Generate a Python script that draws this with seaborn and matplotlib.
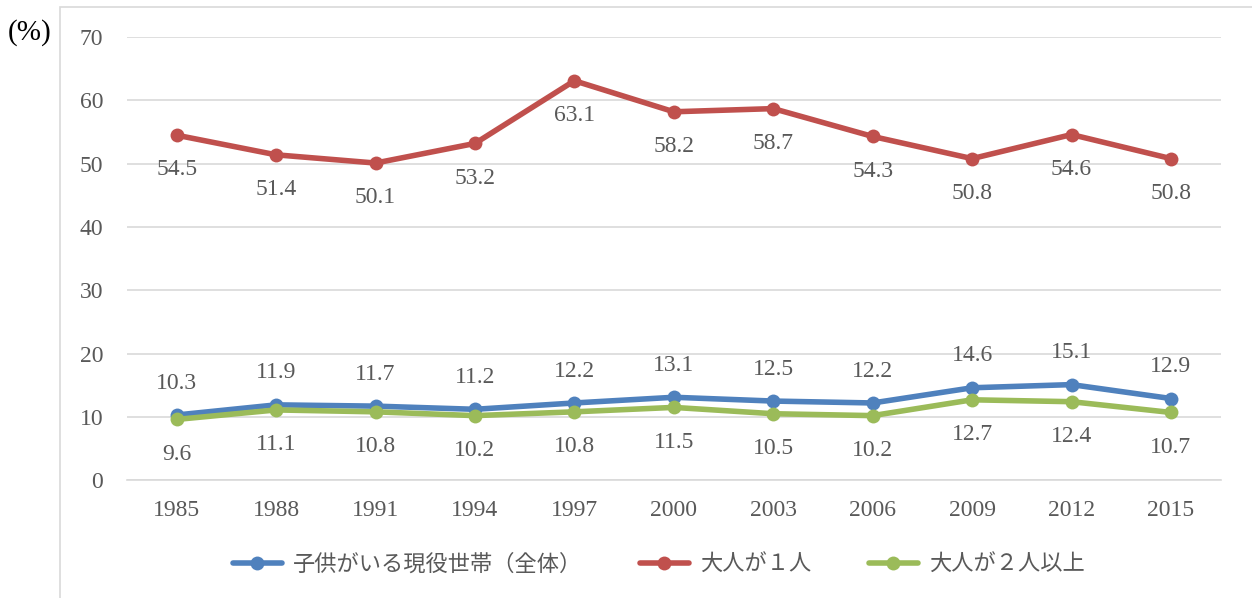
import pandas as pd
import seaborn as sns
import matplotlib.pyplot as plt
from matplotlib.patches import Rectangle

# data
years = ['1985', '1988', '1991', '1994', '1997', '2000',
         '2003', '2006', '2009', '2012', '2015']
all_households = [10.3, 11.9, 11.7, 11.2, 12.2, 13.1, 12.5, 12.2, 14.6, 15.1, 12.9]
one_adult = [54.5, 51.4, 50.1, 53.2, 63.1, 58.2, 58.7, 54.3, 50.8, 54.6, 50.8]
two_adults = [9.6, 11.1, 10.8, 10.2, 10.8, 11.5, 10.5, 10.2, 12.7, 12.4, 10.7]

series_names = ['子供がいる現役世帯（全体）', '大人が１人', '大人が２人以上']
colors = ['#4F81BD', '#C0504D', '#9BBB59']

df = pd.DataFrame({
    'year': years * 3,
    'value': all_households + one_adult + two_adults,
    'series': [series_names[0]] * 11 + [series_names[1]] * 11 + [series_names[2]] * 11,
})

sns.set_style('white')
plt.rcParams['font.family'] = ['Liberation Serif', 'Noto Sans CJK JP']
text_col = '#595959'

fig = plt.figure(figsize=(12.52, 5.98), dpi=100)
ax = fig.add_axes([0.1014, 0.197, 0.8736, 0.741])

sns.lineplot(data=df, x='year', y='value', hue='series', palette=colors,
             marker='o', markersize=10, linewidth=4, markeredgewidth=0,
             sort=False, ax=ax)

ax.set_xlim(-0.5, len(years) - 0.5)
ax.set_ylim(0, 70)
ax.set_yticks(range(0, 71, 10))
ax.grid(axis='y', color='#D9D9D9', linewidth=1.2)
ax.set_axisbelow(True)
for s in ['top', 'right', 'left']:
    ax.spines[s].set_visible(False)
ax.spines['bottom'].set_color('#D9D9D9')
ax.spines['bottom'].set_linewidth(1.2)
ax.tick_params(axis='both', length=0, labelsize=17, labelcolor=text_col)
ax.tick_params(axis='x', pad=14)
ax.tick_params(axis='y', pad=17)
ax.set_xlabel('')
ax.set_ylabel('')

# value labels
for i, v in enumerate(all_households):
    ax.annotate(f'{v:.1f}', (i, v), xytext=(0, 23), textcoords='offset points',
                ha='center', va='center', fontsize=17, color=text_col)
for i, v in enumerate(one_adult):
    ax.annotate(f'{v:.1f}', (i, v), xytext=(0, -25), textcoords='offset points',
                ha='center', va='center', fontsize=17, color=text_col)
for i, v in enumerate(two_adults):
    ax.annotate(f'{v:.1f}', (i, v), xytext=(0, -25), textcoords='offset points',
                ha='center', va='center', fontsize=17, color=text_col)

leg = ax.legend(loc='center', bbox_to_anchor=(0.486, -0.19), ncol=3, frameon=False,
                fontsize=16, handlelength=2.2, columnspacing=2.6, handletextpad=0.5)
for t in leg.get_texts():
    t.set_color(text_col)
    t.set_family(['Noto Sans CJK JP'])

fig.text(0.006, 0.945, '(%)', fontsize=21, color='black', ha='left', va='center')

# chart frame
fig.patches.append(Rectangle((60 / 1252, -0.05), 1.2, 1 - 7 / 598 + 0.05,
                             transform=fig.transFigure, fill=False,
                             edgecolor='#D9D9D9', linewidth=1.2))

fig.savefig('out.png', dpi=100)
